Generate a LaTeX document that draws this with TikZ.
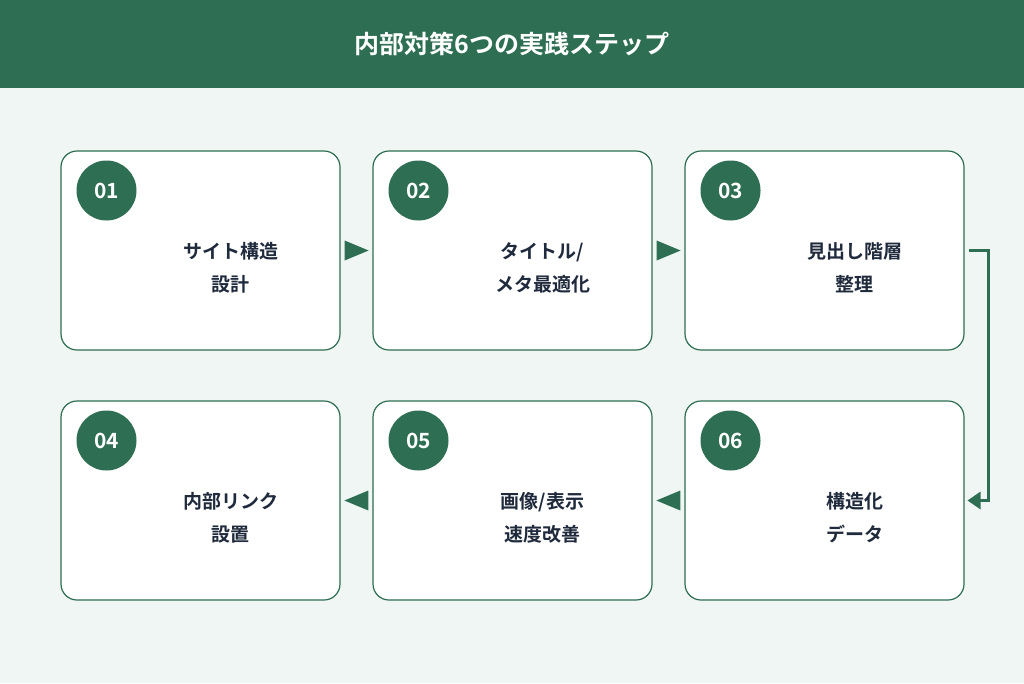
\documentclass[tikz,border=0pt]{standalone}
\usepackage{fontspec}
\setmainfont{Noto Sans CJK JP}[BoldFont={* Bold}]
\usetikzlibrary{positioning}
\definecolor{darkgreen}{HTML}{2E6E52}
\definecolor{bggreen}{HTML}{F0F6F3}
\definecolor{textnavy}{HTML}{1F2A3C}
\tikzset{
  stepbox/.style={draw=darkgreen, line width=1.2pt, fill=white, rounded corners=16pt,
               minimum width=279pt, minimum height=199pt},
  badge/.style={circle, fill=darkgreen, minimum size=60pt, inner sep=0pt,
                text=white, font=\fontsize{21}{21}\selectfont\bfseries},
  steptext/.style={align=center, text=textnavy, font=\fontsize{19}{33}\selectfont\bfseries},
  tri/.style={fill=darkgreen, draw=none}
}
\begin{document}
\begin{tikzpicture}[x=1pt,y=-1pt]
% 背景
\fill [bggreen] (0,0) rectangle (1024,683);
\useasboundingbox (0,0) rectangle (1024,683);
% タイトル
\fill [darkgreen] (0,0) rectangle (1024,88);
\node [text=white, font=\fontsize{25}{25}\selectfont\bfseries] (title) at (512,44) {内部対策6つの実践ステップ};

% ステップ
\node [stepbox] (s1) at (200.5,250.5) {};
\node [stepbox] (s2) at (512.5,250.5) {};
\node [stepbox] (s3) at (824.5,250.5) {};
\node [stepbox] (s4) at (200.5,500.5) {};
\node [stepbox] (s5) at (512.5,500.5) {};
\node [stepbox] (s6) at (824.5,500.5) {};

\foreach \n/\t in {1/01,2/02,3/03,4/04,5/05,6/06}
  \node [badge] (b\n) at ([xshift=-94pt,yshift=60pt]s\n.center) {\t};

\node [steptext] (t1) at ([xshift=30pt,yshift=-17pt]s1.center) {サイト構造\\設計};
\node [steptext] (t2) at ([xshift=30pt,yshift=-17pt]s2.center) {タイトル/\\メタ最適化};
\node [steptext] (t3) at ([xshift=30pt,yshift=-17pt]s3.center) {見出し階層\\整理};
\node [steptext] (t4) at ([xshift=30pt,yshift=-17pt]s4.center) {内部リンク\\設置};
\node [steptext] (t5) at ([xshift=30pt,yshift=-17pt]s5.center) {画像/表示\\速度改善};
\node [steptext] (t6) at ([xshift=30pt,yshift=-17pt]s6.center) {構造化\\データ};

% 矢印
\fill [tri] ([xshift=4pt,yshift=10pt]s1.east) -- ([xshift=28pt]s1.east) -- ([xshift=4pt,yshift=-10pt]s1.east) -- cycle;
\fill [tri] ([xshift=4pt,yshift=10pt]s2.east) -- ([xshift=28pt]s2.east) -- ([xshift=4pt,yshift=-10pt]s2.east) -- cycle;
\fill [tri] ([xshift=-4pt,yshift=10pt]s5.west) -- ([xshift=-28pt]s5.west) -- ([xshift=-4pt,yshift=-10pt]s5.west) -- cycle;
\fill [tri] ([xshift=-4pt,yshift=10pt]s6.west) -- ([xshift=-28pt]s6.west) -- ([xshift=-4pt,yshift=-10pt]s6.west) -- cycle;

% 折り返し
\coordinate (c1) at ([xshift=4pt]s3.east);
\coordinate (c2) at ([xshift=24pt]s3.east);
\coordinate (c3) at ([xshift=24pt]s6.east);
\coordinate (c4) at ([xshift=14pt]s6.east);
\draw [darkgreen, line width=2.5pt] (c1) -- (c2) -- (c3) -- (c4);
\fill [tri] ([xshift=16pt,yshift=9pt]s6.east) -- ([xshift=3pt]s6.east) -- ([xshift=16pt,yshift=-9pt]s6.east) -- cycle;
\end{tikzpicture}
\end{document}
